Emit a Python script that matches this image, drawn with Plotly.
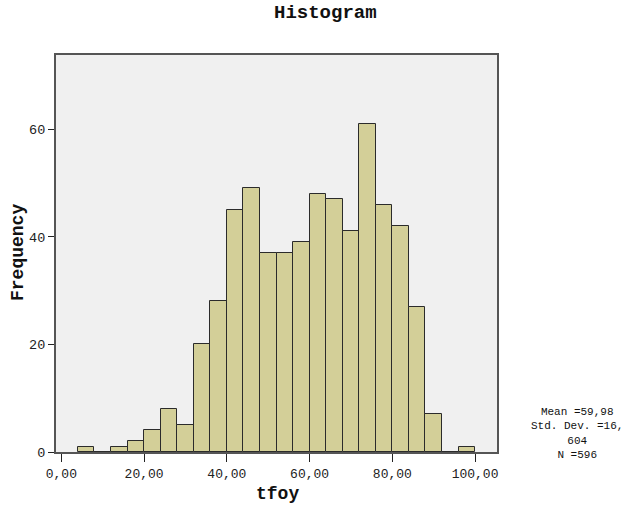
import plotly.graph_objects as go

bin_starts = [4, 8, 12, 16, 20, 24, 28, 32, 36, 40, 44, 48, 52, 56, 60, 64, 68, 72, 76, 80, 84, 88, 92, 96]
counts = [1, 0, 1, 2, 4, 8, 5, 20, 28, 45, 49, 37, 37, 39, 48, 47, 41, 61, 46, 42, 27, 7, 0, 1]
bin_width = 4
x_tickvals = [0, 20, 40, 60, 80, 100]
x_ticktext = ["0,00", "20,00", "40,00", "60,00", "80,00", "100,00"]
y_tickvals = [0, 20, 40, 60]
stats_lines = ["Mean =59,98", "Std. Dev. =16,", "604", "N =596"]

FONT = "Liberation Mono, Courier New, monospace"

W, H = 643, 513
ML, MR, MT, MB = 56, 146, 55, 61
plot_w = W - ML - MR
plot_h = H - MT - MB


def px_to_paper_x(px):
    return (px - ML) / plot_w


def px_to_paper_y(py):
    return (H - MB - py) / plot_h


fig = go.Figure()
fig.add_trace(go.Bar(
    x=[s + bin_width / 2 for s in bin_starts],
    y=counts,
    width=bin_width,
    marker=dict(color="#d3cf98", line=dict(color="#2b2b2b", width=1)),
    showlegend=False,
    hoverinfo="skip",
))

annotations = [
    dict(text="<b>Histogram</b>", x=px_to_paper_x(325), y=px_to_paper_y(13), xref="paper", yref="paper",
         xanchor="center", yanchor="middle", showarrow=False, font=dict(family=FONT, size=19, color="#111")),
    dict(text="<b>tfoy</b>", x=px_to_paper_x(277), y=px_to_paper_y(494), xref="paper", yref="paper",
         xanchor="center", yanchor="middle", showarrow=False, font=dict(family=FONT, size=18, color="#111")),
    dict(text="<b>Frequency</b>", x=px_to_paper_x(18), y=px_to_paper_y(253), xref="paper", yref="paper",
         textangle=-90, xanchor="center", yanchor="middle", showarrow=False,
         font=dict(family=FONT, size=18, color="#111")),
    dict(text="<br>".join(stats_lines), x=px_to_paper_x(577), y=px_to_paper_y(433), xref="paper", yref="paper",
         xanchor="center", yanchor="middle", align="center", showarrow=False, borderpad=0,
         font=dict(family=FONT, size=11, color="#111")),
]

fig.update_layout(
    width=W, height=H,
    margin=dict(l=ML, r=MR, t=MT, b=MB),
    paper_bgcolor="white",
    plot_bgcolor="#f0f0f0",
    bargap=0,
    font=dict(family=FONT, color="#222"),
    xaxis=dict(
        range=[-1.3, 105.3], tickvals=x_tickvals, ticktext=x_ticktext,
        ticks="outside", ticklen=8, tickcolor="#222", tickwidth=1,
        showgrid=False, zeroline=False, showline=True, linecolor="#555", linewidth=2, mirror=True,
        tickfont=dict(family=FONT, size=13, color="#222"),
    ),
    yaxis=dict(
        range=[0, 73.8], tickvals=y_tickvals,
        ticks="outside", ticklen=6, tickcolor="#222", tickwidth=1,
        showgrid=False, zeroline=False, showline=True, linecolor="#555", linewidth=2, mirror=True,
        tickfont=dict(family=FONT, size=13.5, color="#222"),
    ),
    annotations=annotations,
)

fig.write_html("out.html")
